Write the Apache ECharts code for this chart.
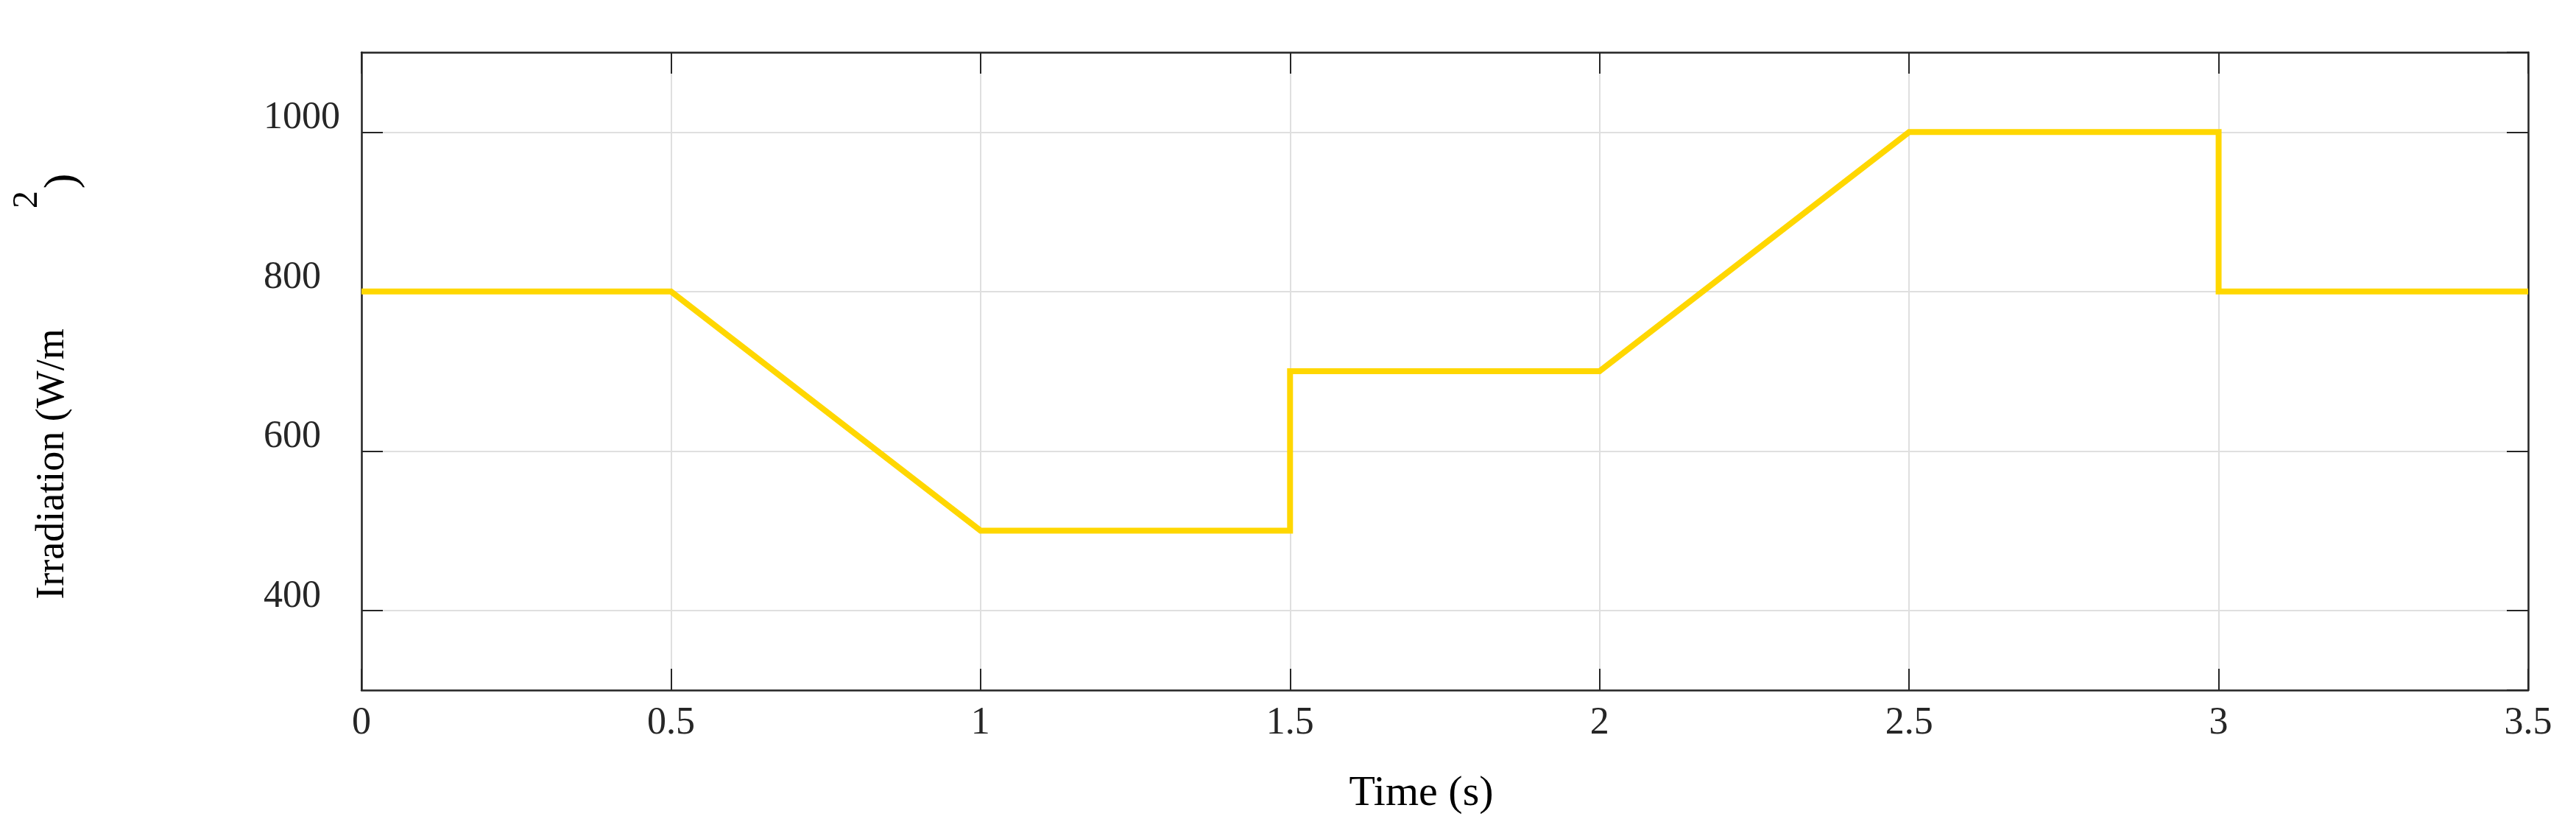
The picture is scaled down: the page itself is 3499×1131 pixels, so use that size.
<!DOCTYPE html>
<html>
<head>
<meta charset="utf-8">
<script src="https://cdn.jsdelivr.net/npm/echarts@6/dist/echarts.min.js"></script>
<style>
html,body{margin:0;padding:0;background:#fff;}
#chart{width:3499px;height:1131px;}
</style>
</head>
<body>
<div id="chart"></div>
<script>
// Data
const timeValues = [0, 0.5, 1.0, 1.5, 1.5, 2.0, 2.5, 3.0, 3.0, 3.5];
const irradiationValues = [800, 800, 500, 500, 700, 700, 1000, 1000, 800, 800];
const xTickLabels = ['0', '0.5', '1', '1.5', '2', '2.5', '3', '3.5'];
const yTickLabels = ['400', '600', '800', '1000'];
const xAxisTitle = 'Time (s)';
const yAxisTitleMain = 'Irradiation (W/m';
const yAxisTitleSup = '2';
const yAxisTitleClose = ')';

const seriesData = timeValues.map((t, i) => [t, irradiationValues[i]]);

const FONT = 'Liberation Serif';
const AX = '#262626';

const chart = echarts.init(document.getElementById('chart'), null, {renderer: 'canvas'});

function ticks() { return {show: true, inside: true, length: 29, lineStyle: {color: AX, width: 2}}; }
function axLine() { return {show: true, onZero: false, lineStyle: {color: AX, width: 2.5}}; }

chart.setOption({
  backgroundColor: '#ffffff',
  animation: false,
  grid: {left: 491, right: 65, top: 71, bottom: 194, show: false, containLabel: false},
  xAxis: [{
    type: 'value', position: 'bottom', min: 0, max: 3.5, interval: 0.5,
    name: xAxisTitle, nameLocation: 'middle', nameGap: 112,
    nameTextStyle: {fontFamily: FONT, fontSize: 58, color: '#000', padding: [0, 64, 0, 0]},
    axisLine: axLine(),
    axisTick: ticks(),
    axisLabel: {fontFamily: FONT, fontSize: 52, color: AX, margin: 19,
      formatter: v => { const s = xTickLabels.find(l => Math.abs(parseFloat(l) - v) < 1e-9); return s !== undefined ? s : ''; }},
    splitLine: {show: true, lineStyle: {color: '#dfdfdf', width: 2}}
  }, {
    type: 'value', position: 'top', min: 0, max: 3.5, interval: 0.5,
    axisLine: axLine(), axisTick: ticks(), axisLabel: {show: false}, splitLine: {show: false}
  }],
  yAxis: [{
    type: 'value', position: 'left', min: 300, max: 1100, splitNumber: 4,
    axisLine: axLine(),
    axisTick: ticks(),
    axisLabel: {fontFamily: FONT, fontSize: 52, color: AX, margin: 133, align: 'left', lineHeight: 37,
      showMinLabel: false, showMaxLabel: false,
      formatter: v => { const s = yTickLabels.find(l => parseFloat(l) === v); return s !== undefined ? s + '\n ' : ''; }},
    splitLine: {show: true, lineStyle: {color: '#dfdfdf', width: 2}}
  }, {
    type: 'value', position: 'right', min: 300, max: 1100, splitNumber: 4,
    axisLine: axLine(), axisTick: ticks(), axisLabel: {show: false}, splitLine: {show: false}
  }],
  graphic: [
    {type: 'text', x: 72, y: 630, rotation: Math.PI / 2,
      style: {text: yAxisTitleMain, font: '54px "Liberation Serif"', fill: '#000', align: 'center', verticalAlign: 'middle'}},
    {type: 'text', x: 37, y: 271, rotation: Math.PI / 2,
      style: {text: yAxisTitleSup, font: '48px "Liberation Serif"', fill: '#000', align: 'center', verticalAlign: 'middle'}},
    {type: 'text', x: 86, y: 246, rotation: Math.PI / 2,
      style: {text: yAxisTitleClose, font: '62px "Liberation Serif"', fill: '#000', align: 'center', verticalAlign: 'middle'}}
  ],
  series: [{
    type: 'line', xAxisIndex: 0, yAxisIndex: 0,
    data: seriesData, showSymbol: false, symbol: 'none',
    lineStyle: {color: '#FFD700', width: 8, join: 'miter'},
    z: 3
  }]
});
</script>
</body>
</html>
